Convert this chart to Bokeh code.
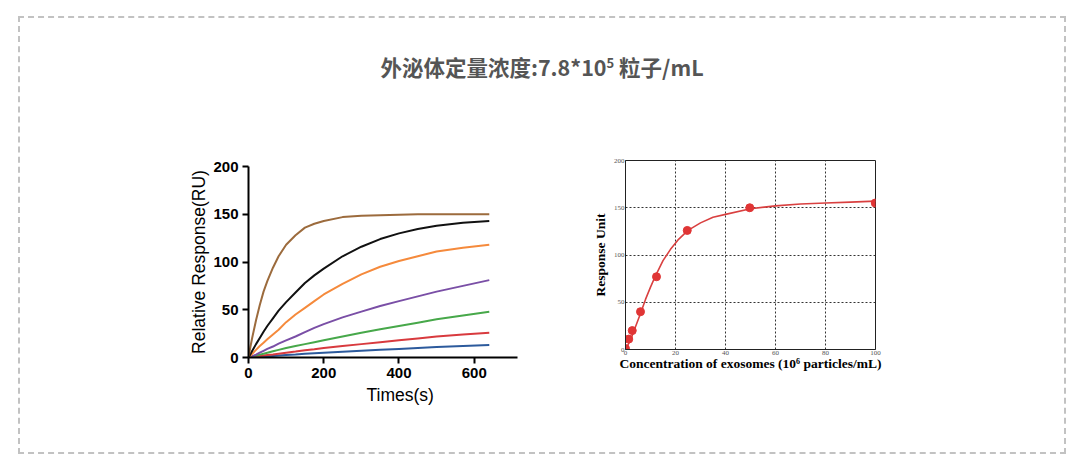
from bokeh.plotting import figure
from bokeh.layouts import column, row
from bokeh.models import Div, Spacer, FixedTicker, Range1d, Title
from bokeh.embed import file_html
from bokeh.resources import INLINE

# ---------------- data: left chart (SPR sensorgrams) ----------------
times = [0, 5, 10, 20, 30, 40, 50, 65, 80, 100, 125, 150, 175, 200, 250, 300, 350, 400, 450, 500, 570, 640]
curve_brown = [0, 11, 21, 39, 55, 69, 80, 94, 106, 118, 128, 136, 140, 143, 147, 148.5, 149, 149.5, 150, 150, 150, 150]
curve_black = [0, 3.5, 7, 14, 20.5, 27, 33, 41, 49, 58, 68, 78, 86, 93, 106, 116, 124, 130, 134.5, 138, 141, 143]
curve_orange = [0, 2, 4, 8, 12, 15.5, 19, 24, 29, 37, 45, 52, 59, 66, 77, 87, 95, 101, 106, 111, 115, 118]
curve_purple = [0, 0.8, 1.5, 3, 5, 7, 9, 11.5, 14.5, 18, 22, 26.5, 31, 35, 42, 48, 54, 59, 64, 69, 75, 81]
curve_green = [0, 0.4, 1, 2, 3, 4, 5, 6.5, 8, 10, 12, 14, 16, 18, 22, 26, 29.5, 33, 36.5, 40, 44, 48]
curve_red = [0, 0.2, 0.5, 1, 1.5, 2, 2.5, 3.2, 4, 5, 6.2, 7.5, 8.7, 10, 12, 14, 16, 18, 20, 22, 24, 26]
curve_blue = [0, 0.1, 0.2, 0.4, 0.7, 1, 1.2, 1.6, 2, 2.5, 3.1, 3.8, 4.4, 5, 6, 7, 8, 9, 10, 11, 12, 13]
left_x_ticks = [0, 200, 400, 600]
left_y_ticks = [0, 50, 100, 150, 200]

# ---------------- data: right chart (standard curve) ----------------
conc_points = [0, 1.3, 2.7, 6, 12.4, 24.7, 49.7, 99.9]
resp_points = [1, 11, 20, 40, 77, 126, 150, 155]
conc_fit = [0, 2, 4, 6, 8, 10, 12, 15, 18, 21, 25, 30, 35, 40, 50, 60, 70, 80, 90, 100]
resp_fit = [0, 10, 24, 38, 53, 66, 78, 94, 106, 116, 126, 134, 140, 143, 149, 152, 154, 155, 156, 157]
right_x_ticks = [0, 20, 40, 60, 80, 100]
right_y_ticks = [0, 50, 100, 150, 200]

title_main = "外泌体定量浓度:7.8*10"
title_sup = "5"
title_tail = " 粒子/mL"

# ---------------- left figure ----------------
p1 = figure(width=362, height=267, frame_width=269, frame_height=191, title=None,
            output_backend="svg", toolbar_location=None,
            x_range=Range1d(0, 715), y_range=Range1d(0, 200),
            min_border_left=80, min_border_right=13, min_border_top=16, min_border_bottom=60)
p1.outline_line_color = None
p1.grid.visible = False
p1.background_fill_color = "white"
p1.border_fill_color = "white"

series = [
    (curve_blue, "#2c5a9c"),
    (curve_red, "#d83a3e"),
    (curve_green, "#47a84a"),
    (curve_purple, "#7a4fa6"),
    (curve_orange, "#f58a3c"),
    (curve_black, "#111111"),
    (curve_brown, "#9c6b3d"),
]
for vals, col in series:
    p1.line(times, vals, line_color=col, line_width=2)

for ax in (p1.xaxis[0], p1.yaxis[0]):
    ax.axis_line_width = 2
    ax.axis_line_color = "black"
    ax.major_tick_line_width = 2
    ax.major_tick_line_color = "black"
    ax.major_tick_out = 6
    ax.major_tick_in = 0
    ax.minor_tick_line_color = None
    ax.major_label_text_font = "Liberation Sans"
    ax.major_label_text_font_style = "bold"
    ax.major_label_text_font_size = "15px"
    ax.major_label_text_color = "black"
    ax.axis_label_text_font = "Liberation Sans"
    ax.axis_label_text_font_style = "normal"
    ax.axis_label_text_font_size = "17.5px"
    ax.axis_label_text_color = "black"
p1.xaxis.ticker = FixedTicker(ticks=left_x_ticks)
p1.yaxis.ticker = FixedTicker(ticks=left_y_ticks)
p1.yaxis.axis_label = "Relative Response(RU)"
p1.xaxis.major_label_standoff = 4
p1.yaxis.major_label_standoff = 4
p1.yaxis.axis_label_standoff = 1
p1.add_layout(Title(text="Times(s)", align="left", offset=118, standoff=4,
                    text_font="Liberation Sans", text_font_style="normal",
                    text_font_size="17.5px", text_color="black"), "below")

# ---------------- right figure ----------------
p2 = figure(width=315, height=267, frame_width=250, frame_height=189, title=None,
            output_backend="svg", toolbar_location=None,
            x_range=Range1d(0, 100), y_range=Range1d(0, 200),
            min_border_left=50, min_border_right=15, min_border_top=10, min_border_bottom=68)
p2.outline_line_color = "#222222"
p2.outline_line_width = 1
p2.background_fill_color = "white"
p2.border_fill_color = "white"
p2.xgrid.ticker = FixedTicker(ticks=[20, 40, 60, 80])
p2.ygrid.ticker = FixedTicker(ticks=[50, 100, 150])
for g in (p2.xgrid[0], p2.ygrid[0]):
    g.grid_line_color = "#333333"
    g.grid_line_dash = "2 2"
    g.grid_line_width = 1

p2.line(conc_fit, resp_fit, line_color="#d94040", line_width=1.6)
p2.scatter(conc_points, resp_points, size=8, fill_color="#e03535", line_color="#e03535")

for ax in (p2.xaxis[0], p2.yaxis[0]):
    ax.axis_line_color = "#222222"
    ax.major_tick_line_color = None
    ax.major_tick_out = 0
    ax.major_tick_in = 0
    ax.minor_tick_line_color = None
    ax.minor_tick_out = 0
    ax.major_label_text_font = "Liberation Serif"
    ax.major_label_text_font_size = "7px"
    ax.major_label_text_color = "#555555"
    ax.major_label_standoff = 1
    ax.axis_label_text_font = "Liberation Serif"
    ax.axis_label_text_font_style = "bold"
    ax.axis_label_text_font_size = "13.5px"
    ax.axis_label_text_color = "black"
p2.xaxis.ticker = FixedTicker(ticks=right_x_ticks)
p2.yaxis.ticker = FixedTicker(ticks=right_y_ticks)
p2.xaxis.axis_label = "Concentration of exosomes (10⁶ particles/mL)"
p2.yaxis.axis_label = "Response Unit"
p2.xaxis.axis_label_standoff = -2
p2.yaxis.axis_label_standoff = 3

# ---------------- page ----------------
title_html = (
    '<div style="width:1044px;text-align:center;padding-top:34px;'
    "font-family:'Noto Sans CJK SC';font-weight:bold;font-size:21.5px;color:#555555;\">"
    f'{title_main}<sup style="font-size:13px">{title_sup}</sup>{title_tail}</div>'
)
title_div = Div(text=title_html, width=1044, height=132, margin=(0, 0, 0, 0))

left_box = column(p1, margin=(0, 0, 0, 0))
right_box = column(p2, margin=(0, 0, 0, 0))
charts = row(Spacer(width=148, height=267), left_box, Spacer(width=45, height=267), right_box,
             Spacer(width=174, height=267), margin=(0, 0, 0, 0))
root = column(title_div, charts, Spacer(width=1044, height=35),
              margin=(16, 0, 0, 18),
              styles={"border": "2px dashed #c2c2c2"})

open("out.html", "w").write(file_html(root, INLINE))
